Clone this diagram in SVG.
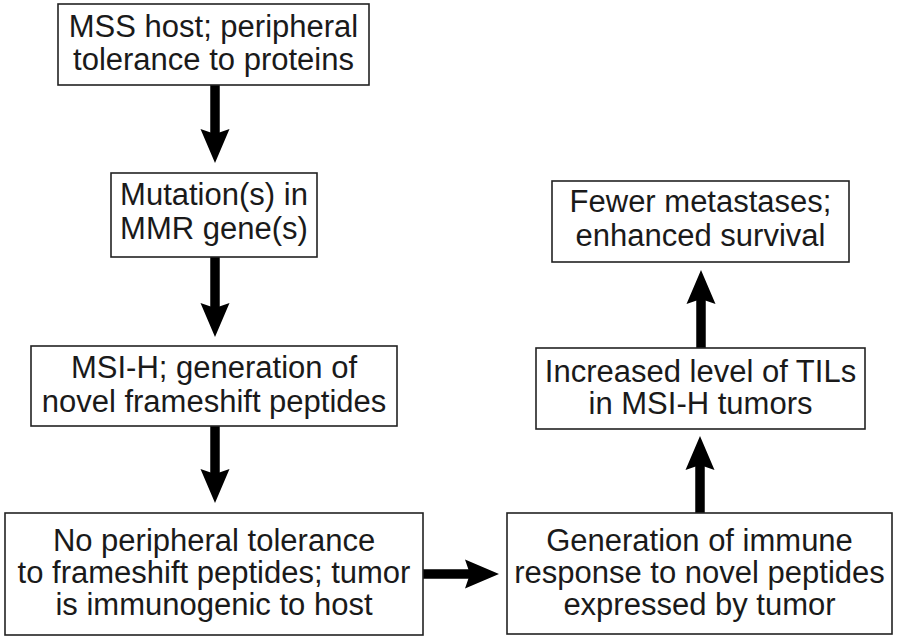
<svg xmlns="http://www.w3.org/2000/svg" width="900" height="640" viewBox="0 0 900 640">
<style>
.box{fill:#fff;stroke:#222;stroke-width:1.6}
.t{font-family:"Liberation Sans",Arial,Helvetica,sans-serif;font-size:31px;fill:#1a1a1a;text-anchor:middle}
.c{stroke:#000;stroke-width:9.5;fill:none}
</style>
<defs>
<marker id="ah" markerUnits="userSpaceOnUse" markerWidth="40" markerHeight="34" viewBox="0 -17 40 34" refX="6" refY="0" orient="auto">
<path d="M0,-14.5 L34,0 L0,14.5 L5,0 Z" fill="#000"/>
</marker>
</defs>
<rect width="900" height="640" fill="#fff"/>
<g id="connectors">
<line class="c" x1="215" y1="85" x2="215" y2="135" marker-end="url(#ah)"/>
<line class="c" x1="215" y1="257" x2="215" y2="309" marker-end="url(#ah)"/>
<line class="c" x1="215" y1="426" x2="215" y2="475" marker-end="url(#ah)"/>
<line class="c" x1="423" y1="574" x2="471" y2="574" marker-end="url(#ah)"/>
<line class="c" x1="700" y1="513" x2="700" y2="464" marker-end="url(#ah)"/>
<line class="c" x1="701" y1="348" x2="701" y2="298" marker-end="url(#ah)"/>
</g>
<g id="n1">
<rect class="box" x="58" y="4" width="311" height="81"/>
<text class="t" x="213.5" y="37">MSS host; peripheral</text>
<text class="t" x="213.5" y="70">tolerance to proteins</text>
</g>
<g id="n2">
<rect class="box" x="111" y="173" width="206" height="84"/>
<text class="t" x="214" y="205">Mutation(s) in</text>
<text class="t" x="214" y="239">MMR gene(s)</text>
</g>
<g id="n3">
<rect class="box" x="31" y="346" width="366" height="80"/>
<text class="t" x="214" y="378">MSI-H; generation of</text>
<text class="t" x="214" y="412">novel frameshift peptides</text>
</g>
<g id="n4">
<rect class="box" x="5" y="513" width="418" height="122"/>
<text class="t" x="214" y="551">No peripheral tolerance</text>
<text class="t" x="214" y="583">to frameshift peptides; tumor</text>
<text class="t" x="214" y="615">is immunogenic to host</text>
</g>
<g id="n5">
<rect class="box" x="507" y="513" width="385" height="121"/>
<text class="t" x="699.5" y="551">Generation of immune</text>
<text class="t" x="699.5" y="583">response to novel peptides</text>
<text class="t" x="699.5" y="615">expressed by tumor</text>
</g>
<g id="n6">
<rect class="box" x="536" y="348" width="329" height="81"/>
<text class="t" x="700.5" y="382">Increased level of TILs</text>
<text class="t" x="700.5" y="414">in MSI-H tumors</text>
</g>
<g id="n7">
<rect class="box" x="552" y="181" width="297" height="81"/>
<text class="t" x="700.5" y="212">Fewer metastases;</text>
<text class="t" x="700.5" y="246">enhanced survival</text>
</g>
</svg>
